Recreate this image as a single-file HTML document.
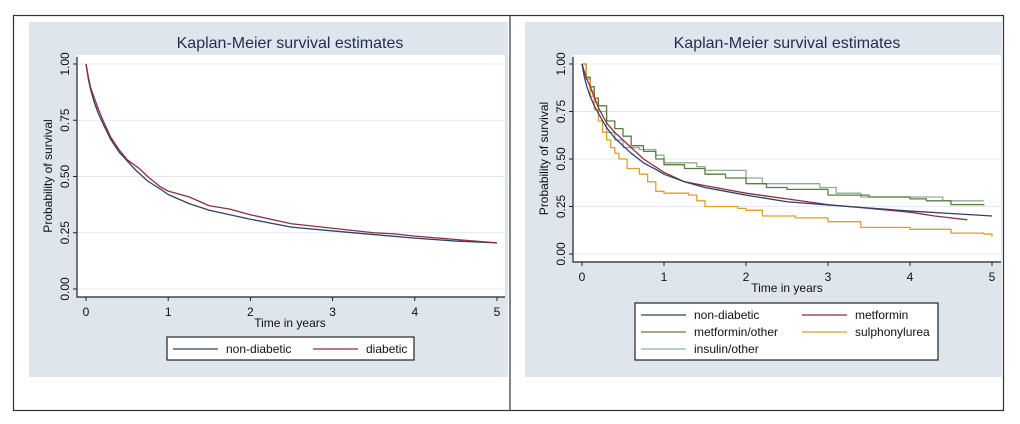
<!DOCTYPE html>
<html><head><meta charset="utf-8">
<style>
body{margin:0;background:#fff;width:1020px;height:424px;overflow:hidden;font-family:"Liberation Sans",sans-serif}
svg{display:block}
</style></head>
<body>
<svg width="1020" height="424" viewBox="0 0 1020 424">
<rect x="13.5" y="15.5" width="990" height="395" fill="#fff" stroke="#333" stroke-width="1.2"/>
<line x1="510" y1="15" x2="510" y2="410" stroke="#333" stroke-width="1.2"/>
<g id="p1"></g>
<g id="p2"></g>
</svg>
<script>
const yTicks=[0,0.25,0.5,0.75,1];
const yTickLabels=["0.00","0.25","0.50","0.75","1.00"];
const xTicks=[0,1,2,3,4,5];
// left panel series
const leftNonDiabeticT=[0,0.03,0.06,0.1,0.15,0.2,0.3,0.4,0.5,0.6,0.75,0.9,1,1.25,1.5,1.75,2,2.5,3,3.5,4,4.5,5];
const leftNonDiabeticS=[1,0.93,0.88,0.83,0.78,0.74,0.665,0.61,0.57,0.53,0.48,0.445,0.42,0.38,0.35,0.33,0.31,0.275,0.258,0.242,0.226,0.213,0.205];
const leftDiabeticT=[0,0.03,0.06,0.1,0.15,0.2,0.3,0.4,0.5,0.65,0.75,0.9,1,1.25,1.5,1.75,2,2.5,3,3.5,3.75,4,4.5,5];
const leftDiabeticS=[1,0.94,0.89,0.85,0.8,0.755,0.675,0.62,0.575,0.535,0.5,0.455,0.435,0.41,0.37,0.355,0.33,0.29,0.27,0.25,0.245,0.235,0.22,0.205];
// right panel series
const rNonDiabeticT=[0,0.03,0.06,0.1,0.15,0.2,0.3,0.4,0.5,0.6,0.75,0.9,1,1.25,1.5,1.75,2,2.5,3,3.5,4,4.5,5];
const rNonDiabeticS=[1,0.93,0.88,0.83,0.78,0.74,0.665,0.61,0.57,0.53,0.48,0.445,0.42,0.38,0.35,0.33,0.31,0.275,0.258,0.242,0.226,0.213,0.2];
const rMetforminT=[0,0.05,0.1,0.2,0.3,0.4,0.5,0.6,0.75,1,1.25,1.5,1.75,2,2.5,3,3.5,4,4.3,4.5,4.7];
const rMetforminS=[1,0.93,0.88,0.77,0.69,0.64,0.6,0.56,0.5,0.43,0.38,0.36,0.34,0.32,0.29,0.26,0.24,0.22,0.2,0.19,0.18];
const rMetOtherT=[0,0.05,0.1,0.15,0.2,0.3,0.4,0.5,0.6,0.75,0.9,1,1.25,1.5,1.75,2,2.25,2.5,3,3.5,4,4.2,4.5,4.9];
const rMetOtherS=[1,0.93,0.88,0.82,0.78,0.7,0.66,0.62,0.57,0.54,0.5,0.47,0.45,0.42,0.4,0.37,0.35,0.34,0.31,0.3,0.29,0.28,0.26,0.255];
const rInsulinT=[0,0.05,0.1,0.15,0.2,0.3,0.4,0.5,0.7,0.9,1,1.4,1.5,2,2.2,2.9,3.1,3.4,4.4,4.9];
const rInsulinS=[1,0.93,0.86,0.8,0.75,0.64,0.6,0.56,0.55,0.52,0.48,0.46,0.44,0.4,0.37,0.35,0.32,0.3,0.28,0.28];
const rSulphT=[0,0.05,0.1,0.15,0.2,0.25,0.3,0.35,0.4,0.45,0.55,0.7,0.8,0.9,1,1.3,1.4,1.5,1.9,2,2.2,2.6,3,3.4,4,4.5,4.9,5];
const rSulphS=[1,0.92,0.83,0.76,0.7,0.64,0.6,0.56,0.53,0.5,0.45,0.42,0.38,0.33,0.32,0.31,0.28,0.25,0.24,0.23,0.2,0.19,0.17,0.14,0.13,0.11,0.105,0.09];

const NS="http://www.w3.org/2000/svg";
function mk(parent,tag,attrs,text){const e=document.createElementNS(NS,tag);for(const k in attrs)e.setAttribute(k,attrs[k]);if(text!==undefined)e.textContent=text;parent.appendChild(e);return e;}

function panel(g,cfg){
  const bg=mk(g,'rect',{x:cfg.bgX,y:22,width:cfg.bgW,height:355,fill:'#dfe5ec'});
  
  
  const pa=mk(g,'rect',{x:cfg.ax,y:55,width:cfg.pr-cfg.ax,height:cfg.ay-55,fill:'#fff'});
  
  
  const xs=t=>cfg.x0+(cfg.x5-cfg.x0)*t/5;
  const ys=s=>cfg.y0+(cfg.y1-cfg.y0)*s;
  yTicks.forEach((v,i)=>{
    const gl=mk(g,'line',{x1:cfg.ax,x2:cfg.pr,y1:ys(v),y2:ys(v),stroke:'#e4e9ef','stroke-width':1});
    
    
    mk(g,'line',{x1:cfg.ax-4,x2:cfg.ax,y1:ys(v),y2:ys(v),stroke:'#222'});
    const tl=mk(g,'text',{x:0,y:0,transform:`translate(${cfg.ax-8},${ys(v)}) rotate(-90)`,'text-anchor':'middle','font-size':12,fill:'#111'},yTickLabels[i]);
    
    
  });
  xTicks.forEach(v=>{
    mk(g,'line',{x1:xs(v),x2:xs(v),y1:cfg.ay,y2:cfg.ay+4,stroke:'#222'});
    const tl=mk(g,'text',{x:xs(v),y:cfg.ay+19,'text-anchor':'middle','font-size':12,fill:'#111'},String(v));
    
    
  });
  const axl=mk(g,'path',{d:`M${cfg.ax},57V${cfg.ay}H${cfg.pr}`,fill:'none',stroke:'#222','stroke-width':1.2});
  
  
  const tt=mk(g,'text',{x:cfg.tx,y:48,'text-anchor':'middle','font-size':16,fill:'#1f2f4f'},'Kaplan-Meier survival estimates');
  
  
  const xt=mk(g,'text',{x:cfg.tx,y:cfg.ay+30,'text-anchor':'middle','font-size':12,fill:'#111'},'Time in years');
  
  
  const yt=mk(g,'text',{x:0,y:0,transform:`translate(${cfg.ax-25},${(55+cfg.ay)/2}) rotate(-90)`,'text-anchor':'middle','font-size':12,fill:'#111'},'Probability of survival');
  
  
  cfg.series.forEach(s=>{
    let d=`M${xs(s.t[0])},${ys(s.s[0])}`;
    for(let i=1;i<s.t.length;i++){d+= s.step?`H${xs(s.t[i])}V${ys(s.s[i])}`:`L${xs(s.t[i])},${ys(s.s[i])}`;}
    const p=mk(g,'path',{d,fill:'none',stroke:s.c,'stroke-width':1.3,'stroke-linejoin':'round'});
    
    
  });
  const lb=mk(g,'rect',{x:cfg.lx,y:cfg.ly,width:cfg.lw,height:cfg.lh,fill:'#fff',stroke:'#222','stroke-width':1.2});
  
  
  cfg.legend.forEach(L=>{
    mk(g,'line',{x1:L.x,x2:L.x+45,y1:L.y,y2:L.y,stroke:L.c,'stroke-width':1.3});
    const t=mk(g,'text',{x:L.x+53,y:L.y+4,'font-size':12,fill:'#111'},L.n);
    
    
  });
}
const NAVY='#2f4168',MAR='#8e2f3f',GRN='#5d7d3e',ORG='#dca126',INS='#8fac9e';
panel(document.getElementById('p1'),{bgX:29,bgW:479,ax:77,pr:505,ay:297,x0:86,x5:497,y0:289,y1:64,tx:290,
  series:[{n:'non-diabetic',t:leftNonDiabeticT,s:leftNonDiabeticS,c:NAVY,step:false},{n:'diabetic',t:leftDiabeticT,s:leftDiabeticS,c:MAR,step:false}],
  lx:167,ly:337,lw:247,lh:23,
  legend:[{x:173,y:349,n:'non-diabetic',c:NAVY},{x:313,y:349,n:'diabetic',c:MAR}]});
panel(document.getElementById('p2'),{bgX:525,bgW:477,ax:573,pr:1001,ay:262,x0:582,x5:992,y0:254,y1:64,tx:787,
  series:[{n:'insulin-other',t:rInsulinT,s:rInsulinS,c:INS,step:true},{n:'metformin-other',t:rMetOtherT,s:rMetOtherS,c:GRN,step:true},{n:'sulphonylurea',t:rSulphT,s:rSulphS,c:ORG,step:true},{n:'metformin',t:rMetforminT,s:rMetforminS,c:MAR,step:false},{n:'non-diabetic',t:rNonDiabeticT,s:rNonDiabeticS,c:NAVY,step:false}],
  lx:635,ly:303,lw:303,lh:57,
  legend:[{x:641,y:315,n:'non-diabetic',c:NAVY},{x:802,y:315,n:'metformin',c:MAR},{x:641,y:332,n:'metformin/other',c:GRN},{x:802,y:332,n:'sulphonylurea',c:ORG},{x:641,y:349,n:'insulin/other',c:INS}]});
</script>
</body></html>
